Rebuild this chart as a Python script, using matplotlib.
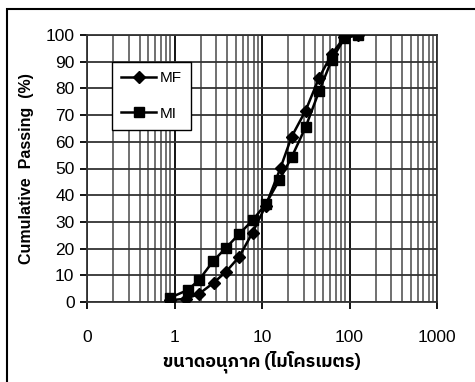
import numpy as np
import matplotlib
matplotlib.use('Agg')
import matplotlib.pyplot as plt
from matplotlib import font_manager
from matplotlib.ft2font import FT2Font
from matplotlib.patches import Rectangle
from matplotlib.ticker import FixedLocator, FixedFormatter, NullFormatter

# particle size (micron) vs cumulative passing (%)
mf_size = [0.9, 1.35, 1.9, 2.8, 3.9, 5.5, 7.8, 11, 16.3, 21.8, 31.5, 45, 62.5, 87.5, 126]
mf_pass = [0.7, 1.2, 3.0, 7.2, 11.4, 17.0, 26.0, 36.0, 50.3, 61.9, 71.7, 84.0, 92.8, 99.2, 100]
mi_size = [0.89, 1.42, 1.9, 2.78, 3.88, 5.46, 7.8, 11.1, 15.8, 21.8, 31.5, 45, 62.5, 87.5, 126]
mi_pass = [1.6, 4.5, 8.2, 15.4, 20.3, 25.4, 30.6, 36.8, 45.7, 54.2, 65.5, 79.0, 90.6, 98.8, 100]

xticks = [0.1, 1, 10, 100, 1000]
xtick_labels = ['0', '1', '10', '100', '1000']
yticks = list(range(0, 101, 10))

# find a font that has Thai glyphs
thai_font = None
for path in font_manager.findSystemFonts():
    try:
        cmap = FT2Font(path).get_charmap()
    except Exception:
        continue
    if 0x0E02 in cmap and 0x0E44 in cmap:
        thai_font = font_manager.FontProperties(fname=path).get_name()
        if 'Sans' in thai_font:
            break

plt.rcParams['font.family'] = ['Liberation Sans', 'DejaVu Sans']

fig = plt.figure(figsize=(4.75, 3.82), dpi=100)
ax = fig.add_axes([87/475, 1 - 302/382, 350/475, 267/382])

ax.set_xscale('log')
ax.set_xlim(0.1, 1000)
ax.set_ylim(0, 100)

ax.plot(mf_size, mf_pass, color='black', lw=1.8, marker='D', ms=6.5,
        label='MF', zorder=3)
ax.plot(mi_size, mi_pass, color='black', lw=1.8, marker='s', ms=7.5,
        label='MI', zorder=3)

ax.xaxis.set_major_locator(FixedLocator(xticks))
ax.xaxis.set_major_formatter(FixedFormatter(xtick_labels))
minors = [m * d for d in [0.1, 1, 10, 100] for m in range(2, 10)]
ax.xaxis.set_minor_locator(FixedLocator(minors))
ax.xaxis.set_minor_formatter(NullFormatter())
ax.set_yticks(yticks)

ax.grid(True, which='major', axis='x', color='black', lw=1.3)
ax.grid(True, which='minor', axis='x', color='#707070', lw=1.4)
ax.grid(True, which='major', axis='y', color='#333333', lw=1.3)
ax.set_axisbelow(True)

ax.tick_params(axis='x', which='major', direction='out', length=5, width=1.3,
               pad=15, labelsize=12.5)
ax.tick_params(axis='x', which='minor', length=0)
ax.tick_params(axis='y', direction='out', length=5, width=1.3, pad=4,
               labelsize=12.5)

for s in ['top', 'right', 'bottom', 'left']:
    ax.spines[s].set_color('#333333')
    ax.spines[s].set_linewidth(1.3)

ax.set_ylabel('Cumulative  Passing  (%)', fontsize=11.5, fontweight='bold',
              labelpad=8)
xl_family = [thai_font, 'DejaVu Sans'] if thai_font else ['DejaVu Sans']
ax.set_xlabel('ขนาดอนุภาค (ไมโครเมตร)', fontsize=13, fontweight='bold',
              family=xl_family, labelpad=4)

leg = ax.legend(loc='upper left', bbox_to_anchor=(25/350, 1 - 27/267),
                frameon=True, fancybox=False, edgecolor='black',
                fontsize=11, handlelength=2.3, labelspacing=1.4,
                borderpad=0.6, handletextpad=0.2, borderaxespad=0,
                framealpha=1)
leg.get_frame().set_linewidth(1.0)

# outer chart border
fig.patches.append(Rectangle((7/475, -0.05), 1.0, 1 - 9/382 + 0.05,
                             transform=fig.transFigure, fill=False,
                             edgecolor='black', lw=1.5))

fig.savefig('out.png', dpi=100)
